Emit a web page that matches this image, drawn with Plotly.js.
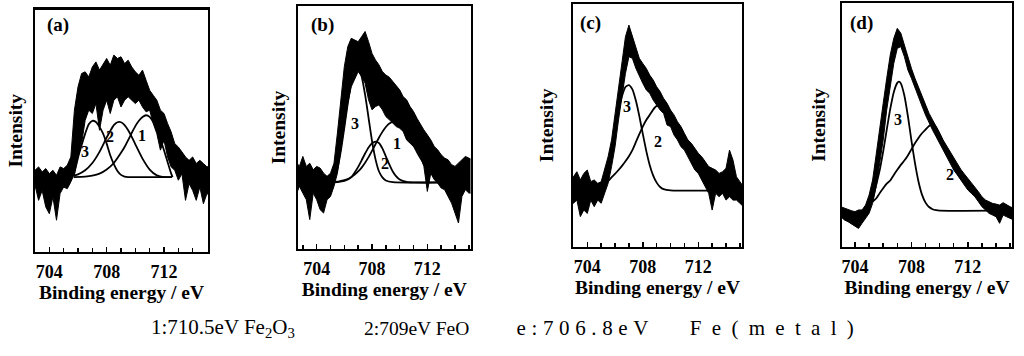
<!DOCTYPE html>
<html><head><meta charset="utf-8">
<script src="https://cdn.plot.ly/plotly-3.0.1.min.js"></script>
<style>html,body{margin:0;padding:0;background:#fff;} #chart{width:1024px;height:356px;}</style>
</head><body><div id="chart"></div>
<script>
// ---------- DATA ----------
const energy = [702.5,702.75,703.0,703.25,703.5,703.75,704.0,704.25,704.5,704.75,705.0,705.25,705.5,705.75,706.0,706.25,706.5,706.75,707.0,707.25,707.5,707.75,708.0,708.25,708.5,708.75,709.0,709.25,709.5,709.75,710.0,710.25,710.5,710.75,711.0,711.25,711.5,711.75,712.0,712.25,712.5,712.75,713.0,713.25,713.5,713.75,714.0,714.25,714.5,714.75,715.0,715.25];

const panelNames = ['(a)','(b)','(c)','(d)'];
const tickValues = [704,708,712];
const tickLabels = ['704','708','712'];
const xTitle = 'Binding energy / eV';
const yTitle = 'Intensity';
const legendItems = ['1:710.5eV Fe<sub>2</sub>O<sub>3</sub>','2:709eV FeO','e:706.8eV','Fe(metal)'];

// noisy spectrum: upper and lower edge of the black band
const specAUpper = [34.0,33.0,33.7,35.1,33.0,34.4,32.3,33.7,31.6,35.1,34.4,35.8,39.2,58.5,68.1,73.6,74.3,72.2,76.3,78.4,75.0,77.7,79.8,77.0,81.2,79.8,80.5,77.7,79.1,76.3,74.3,72.9,75.0,70.8,66.7,64.6,62.6,58.5,57.1,53.0,49.5,44.7,43.3,41.3,39.2,37.8,39.2,36.5,37.8,36.5,35.1,35.5];
const specALower = [27.0,25.0,27.5,21.3,25.4,18.6,15.8,22.7,13.1,24.1,26.8,26.1,28.9,32.3,39.2,44.7,54.3,58.5,57.1,61.2,50.2,58.5,62.6,57.1,62.6,64.0,59.8,62.6,64.0,62.6,61.2,62.6,59.8,57.8,58.5,53.0,48.8,42.0,46.1,39.2,35.1,33.7,29.6,32.3,21.3,28.2,25.4,21.3,26.8,19.9,24.1,23.0];
const specBUpper = [36.0,34.0,38.1,34.0,35.3,32.6,34.0,33.3,31.2,29.9,31.2,35.3,47.7,62.7,75.1,83.3,86.7,86.0,85.3,87.4,89.5,85.3,80.5,77.8,75.8,73.0,71.6,70.7,68.9,67.5,65.5,62.7,61.4,58.6,56.6,53.8,51.1,49.0,47.0,44.9,42.2,40.8,38.8,37.4,36.7,34.7,34.0,35.3,36.7,38.1,37.4,36.7];
const specBLower = [22.0,25.8,23.0,20.3,12.1,23.0,20.3,16.2,14.8,20.3,21.6,25.8,31.2,40.8,50.4,60.0,66.8,69.6,73.0,71.0,68.2,61.4,57.3,58.6,59.3,57.3,54.5,53.2,51.8,50.4,49.7,48.4,44.9,43.6,42.2,40.8,38.1,34.0,23.7,31.2,28.5,27.1,25.1,24.4,21.6,18.9,14.8,10.7,21.6,24.4,23.0,23.0];
const specCUpper = [28.0,27.5,28.8,30.9,27.5,30.2,31.6,26.8,27.5,26.1,26.8,31.6,37.1,44.0,55.0,65.9,75.5,86.5,91.3,86.5,82.4,77.6,75.5,73.5,70.7,68.7,65.9,63.9,61.1,59.1,56.3,54.3,51.5,49.5,46.7,44.0,42.6,40.5,38.5,37.1,35.0,33.0,32.3,31.6,30.2,30.9,32.3,39.8,35.7,28.8,26.8,24.7];
const specCLower = [19.0,19.2,17.9,19.2,12.4,15.1,13.7,19.2,16.5,19.2,17.9,22.0,26.1,33.0,41.2,52.2,61.8,71.4,78.3,77.6,73.5,70.1,67.3,64.6,63.2,60.4,58.4,56.3,54.9,50.1,49.5,46.0,44.0,41.2,39.8,37.1,34.3,31.6,30.2,27.5,24.7,22.0,15.1,22.0,20.6,22.0,19.2,20.6,19.2,19.2,17.9,16.5];
const specDUpper = [16.0,15.8,16.4,15.8,15.3,14.8,14.4,15.1,15.1,17.1,21.2,27.4,37.7,47.3,58.9,69.2,78.8,85.6,89.7,87.7,82.9,77.4,73.3,69.2,65.5,61.9,58.2,54.8,52.1,49.6,46.8,43.8,41.4,38.6,36.3,34.0,31.8,29.9,28.1,26.3,24.7,22.6,20.5,19.2,18.5,17.8,17.5,17.1,18.1,17.1,16.4,15.8];
const specDLower = [12.0,11.6,12.3,11.0,10.3,9.3,8.2,7.5,9.6,11.6,13.7,17.8,24.7,34.2,43.8,56.2,65.8,75.3,81.5,82.2,78.1,72.6,69.2,65.1,61.6,57.8,54.1,50.7,47.9,45.2,42.5,39.7,37.0,34.2,31.5,29.5,27.4,25.3,23.3,21.9,20.5,18.5,16.4,15.1,13.7,13.0,12.3,9.6,13.0,12.3,11.6,11.0];

// fitted components
const compA3x = [705.7,706.0,706.25,706.5,706.75,707.0,707.25,707.5,707.75,708.0,708.25,708.5,708.75,709.0,709.25,709.5,712.55];
const compA3y = [31.4,38.9,44.0,48.8,52.7,54.1,53.6,51.6,48.8,44.7,39.9,36.2,33.4,31.8,31.1,30.9,30.9];
const compA2x = [705.7,706.0,706.5,707.0,707.5,708.0,708.25,708.5,708.75,709.0,709.25,709.5,709.75,710.0,710.5,711.0,711.5,712.0,712.55];
const compA2y = [31.4,32.0,33.7,36.7,41.3,47.2,49.9,52.3,53.5,53.5,52.3,50.2,47.5,44.4,38.5,34.0,31.6,30.9,30.9];
const compA1x = [705.7,706.5,707.0,707.5,708.0,708.5,709.0,709.25,709.5,709.75,710.0,710.25,710.5,710.75,711.0,711.25,711.5,711.75,712.0,712.25,712.5,712.6];
const compA1y = [30.9,31.1,31.5,32.3,34.0,36.7,40.9,43.3,46.1,49.1,51.9,54.1,55.7,56.4,55.7,53.6,50.5,46.4,42.0,37.1,32.3,30.9];

const compB3x = [705.25,705.5,705.75,706.0,706.25,706.5,706.75,707.0,707.25,707.5,707.75,708.0,708.25,708.5,708.75,709.0,709.5,713.3];
const compB3y = [28.5,33.0,40.5,50.0,60.0,68.5,73.8,74.6,71.0,63.5,54.0,44.5,37.0,32.0,29.5,28.2,27.5,27.4];
const compB2x = [705.25,705.5,706.0,706.5,706.75,707.0,707.25,707.5,707.75,708.0,708.25,708.5,708.75,709.0,709.25,709.5,709.75,710.0,710.5,711.0,713.3];
const compB2y = [27.4,27.5,28.0,29.5,31.5,33.8,36.5,39.3,41.8,43.5,44.2,43.6,41.4,38.1,34.8,31.9,29.9,28.6,27.6,27.4,27.4];
const compB1x = [705.25,705.5,705.75,706.0,706.25,706.5,706.75,707.0,707.25,707.5,707.75,708.0,708.25,708.5,708.75,709.0,709.25,709.5,709.75,710.0,710.25,710.5,710.75,711.0,711.25,711.5,711.75,712.0,712.25,712.5,712.75,713.0,713.3];
const compB1y = [27.6,27.7,28.0,28.3,28.8,29.6,30.6,31.9,33.5,35.5,37.8,40.4,43.1,45.8,48.2,50.2,51.6,52.3,52.3,51.4,49.9,47.7,45.3,42.6,39.9,37.4,35.1,33.1,31.6,30.3,29.4,28.7,27.4];

const compC3x = [705.25,705.5,705.75,706.0,706.25,706.5,706.75,707.0,707.25,707.5,707.75,708.0,708.25,708.5,708.75,709.0,709.25,709.5,710.0,713.6];
const compC3y = [27.0,34.0,41.0,48.5,56.0,62.0,65.8,66.6,64.8,60.2,53.8,46.5,39.5,33.6,29.3,26.4,24.6,23.7,23.2,23.1];
const compC2x = [705.25,705.5,705.75,706.0,706.25,706.5,706.75,707.0,707.25,707.5,707.75,708.0,708.25,708.5,708.75,709.0,709.25,709.5,709.75,710.0,710.25,710.5,710.75,711.0,711.25,711.5,711.75,712.0,712.25,712.5,712.75,713.0,713.25,713.6];
const compC2y = [25.5,27.0,28.6,30.0,31.6,33.3,35.2,37.3,39.8,43.1,46.4,49.5,52.2,54.3,56.5,58.0,58.0,57.0,55.0,52.0,49.5,47.0,44.5,42.0,39.5,37.0,34.5,32.5,30.0,28.0,26.0,24.5,23.6,23.1];

const compD3x = [705.25,705.5,705.75,706.0,706.25,706.5,706.75,707.0,707.12,707.25,707.5,707.75,708.0,708.25,708.5,708.75,709.0,709.25,709.5,709.75,710.0,713.9];
const compD3y = [19.5,25.3,31.4,39.2,48.0,56.6,63.5,67.3,67.8,67.1,62.1,53.7,43.7,34.4,26.8,21.4,18.1,16.3,15.4,15.0,14.8,14.8];
const compD2x = [705.25,705.5,705.75,706.0,706.25,706.5,706.75,707.0,707.25,707.5,707.75,708.0,708.25,708.5,708.75,709.0,709.25,709.5,709.75,710.0,710.25,710.5,710.75,711.0,711.25,711.5,711.75,712.0,712.25,712.5,712.75,713.0,713.25,713.5,713.75,714.0];
const compD2y = [18.5,19.8,22.0,24.0,25.9,27.2,29.5,31.6,33.6,35.4,37.5,40.0,42.5,44.7,46.6,48.1,49.6,50.4,49.0,46.0,43.0,40.0,37.5,34.5,32.0,29.8,27.7,25.8,24.2,22.6,21.0,19.4,18.0,16.8,15.8,15.0];

// component number labels (text and anchor in data units)
const peakTextA = ['3','2','1'], peakXA = [706.49,708.23,710.44], peakYA = [41.3,47.5,48.1];
const peakTextB = ['3','1','2'], peakXB = [706.77,709.78,708.94], peakYB = [51.8,43.6,35.3];
const peakTextC = ['3','2'],     peakXC = [706.84,709.12],        peakYC = [57.7,43.3];
const peakTextD = ['3','2'],     peakXD = [707.07,710.74],        peakYD = [52.1,29.5];

// ---------- LAYOUT (pixels of the 1024x356 canvas) ----------
const W = 1024, H = 356;
const SERIF = "'Liberation Serif', 'Times New Roman', Times, serif";
const frames = [
  {x0:35,  x1:208,   y0:9.5, y1:252,   xr:[703.0,715.07],  tx:58,  ty:25, ys:5},
  {x0:298, x1:470.5, y0:6,   y1:249,   xr:[702.65,715.12], tx:322, ty:25, ys:5},
  {x0:573, x1:742,   y0:4,   y1:246.7, xr:[702.97,715.15], tx:590, ty:23, ys:12},
  {x0:842, x1:1012,  y0:3.3, y1:246.7, xr:[703.08,715.13], tx:861, ty:23, ys:9}
];
// caption pieces: centre x, drawn width (0 = natural), font size
const legendPos = [{cx:223, w:0, s:21}, {cx:416, w:0, s:19.5}, {cx:582, w:132, s:21}, {cx:772, w:164, s:21}];
const legendY = 328;

const spectra = [[specAUpper,specALower],[specBUpper,specBLower],[specCUpper,specCLower],[specDUpper,specDLower]];
const comps = [
  [[compA3x,compA3y],[compA2x,compA2y],[compA1x,compA1y]],
  [[compB3x,compB3y],[compB2x,compB2y],[compB1x,compB1y]],
  [[compC3x,compC3y],[compC2x,compC2y]],
  [[compD3x,compD3y],[compD2x,compD2y]]
];
const peaks = [[peakTextA,peakXA,peakYA],[peakTextB,peakXB,peakYB],[peakTextC,peakXC,peakYC],[peakTextD,peakXD,peakYD]];

const data = [];
const layout = {
  width: W, height: H, margin: {l:0,r:0,t:0,b:0},
  paper_bgcolor: '#fff', plot_bgcolor: '#fff', showlegend: false,
  font: {family: SERIF, color: '#000'},
  annotations: []
};

frames.forEach((f, i) => {
  const n = i === 0 ? '' : String(i + 1);
  const xa = 'x' + n, ya = 'y' + n;
  data.push({x: energy, y: spectra[i][1], xaxis: xa, yaxis: ya, type: 'scatter', mode: 'lines',
             line: {color: '#000', width: 1}, hoverinfo: 'skip'});
  data.push({x: energy, y: spectra[i][0], xaxis: xa, yaxis: ya, type: 'scatter', mode: 'lines',
             fill: 'tonexty', fillcolor: '#000', line: {color: '#000', width: 1}, hoverinfo: 'skip'});
  comps[i].forEach(c => data.push({x: c[0], y: c[1], xaxis: xa, yaxis: ya, type: 'scatter', mode: 'lines',
             line: {color: '#000', width: 1.8, shape: 'spline', smoothing: 0.6}, hoverinfo: 'skip'}));

  layout['xaxis' + n] = {
    domain: [f.x0 / W, f.x1 / W], anchor: ya, range: f.xr,
    showline: true, linecolor: '#000', linewidth: 2.2, mirror: true,
    showgrid: false, zeroline: false,
    ticks: 'inside', ticklen: 5, tickwidth: 1.5, tickcolor: '#000',
    tickmode: 'array', tickvals: tickValues, ticktext: tickLabels,
    minor: {tickmode: 'linear', tick0: 704, dtick: 1, ticks: 'inside', ticklen: 4, tickwidth: 1.5, tickcolor: '#000', showgrid: false},
    tickfont: {family: SERIF, size: 18, color: '#000', weight: 'bold'},
    ticklabelstandoff: 2,
    title: {text: xTitle, font: {family: SERIF, size: 19.5, color: '#000', weight: 'bold'}, standoff: 5}
  };
  layout['yaxis' + n] = {
    domain: [1 - f.y1 / H, 1 - f.y0 / H], anchor: xa, range: [0, 100],
    showline: true, linecolor: '#000', linewidth: 2.2, mirror: true,
    showgrid: false, zeroline: false, showticklabels: false, ticks: '',
    title: {text: yTitle, font: {family: SERIF, size: 19.5, color: '#000', weight: 'bold'}, standoff: f.ys}
  };
  layout.annotations.push({text: panelNames[i], xref: 'paper', yref: 'paper', x: f.tx / W, y: 1 - f.ty / H,
    xanchor: 'center', yanchor: 'middle', showarrow: false,
    font: {family: SERIF, size: 19, color: '#000', weight: 'bold'}});
  const p = peaks[i];
  p[0].forEach((t, k) => layout.annotations.push({text: t, xref: xa, yref: ya, x: p[1][k], y: p[2][k],
    xanchor: 'center', yanchor: 'middle', showarrow: false,
    font: {family: SERIF, size: 16, color: '#000', weight: 'bold'}}));
});

legendItems.forEach((t, k) => layout.annotations.push({text: t, xref: 'paper', yref: 'paper',
  x: legendPos[k].cx / W, y: 1 - legendY / H, xanchor: 'center', yanchor: 'middle', showarrow: false,
  font: {family: SERIF, size: legendPos[k].s, color: '#000'}}));

Plotly.newPlot('chart', data, layout, {staticPlot: true, displayModeBar: false}).then(gd => {
  // the printed caption spreads its last entry a little wider: match that span with letter spacing
  gd.querySelectorAll('text.annotation-text').forEach(el => {
    legendItems.forEach((t, k) => {
      if (legendPos[k].w && el.textContent === t) {
        el.setAttribute('textLength', legendPos[k].w);
        el.setAttribute('lengthAdjust', 'spacing');
      }
    });
  });
});
</script>
</body></html>
